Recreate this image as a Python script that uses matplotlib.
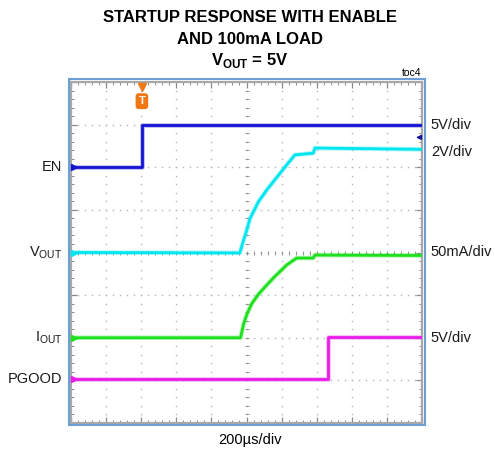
import matplotlib.pyplot as plt
from matplotlib.patches import Rectangle

# Данные, в делениях экрана (10 x 8)
en_x = [0.0, 2.02, 2.02, 10.0]
en_y = [6.0, 6.0, 7.0, 7.0]

vout_x = [0.0, 4.81, 4.92, 5.01, 5.10, 5.34, 5.58, 5.86, 6.15, 6.38, 6.90, 6.95, 10.0]
vout_y = [4.0, 3.99, 4.30, 4.53, 4.80, 5.19, 5.47, 5.76, 6.06, 6.29, 6.33, 6.45, 6.42]

iout_x = [0.0, 4.83, 4.92, 5.02, 5.15, 5.34, 5.58, 5.81, 6.15, 6.43, 6.90, 6.95, 10.0]
iout_y = [2.0, 2.0, 2.33, 2.57, 2.80, 3.02, 3.24, 3.44, 3.71, 3.87, 3.87, 3.94, 3.93]

pg_x = [0.0, 7.31, 7.31, 10.0]
pg_y = [1.03, 1.03, 2.02, 2.02]

names = ["EN", "V$_{\\mathregular{OUT}}$", "I$_{\\mathregular{OUT}}$", "PGOOD"]
name_y = [6.0, 4.0, 2.0, 1.03]
scales = ["5V/div", "2V/div", "50mA/div", "5V/div"]
scale_y = [7.0, 6.35, 4.0, 2.0]
colors = ["#1414d2", "#00e6f0", "#1ee01e", "#ea1cea"]

plt.rcParams['font.family'] = ['Liberation Sans', 'DejaVu Sans']

fig = plt.figure(figsize=(4.95, 4.55), dpi=100)
ax = fig.add_axes([71 / 495, 1 - 423 / 455, 351 / 495, 341 / 455])
ax.set_xlim(0, 10)
ax.set_ylim(0, 8)

# Сетка из точек
gc = "#b4b4b4"
for i in range(1, 10):
    yy = [k * 0.2 for k in range(1, 40)]
    ax.plot([i] * len(yy), yy, ls="none", marker="s", ms=1.0, mew=0, color=gc, zorder=1)
for j in range(1, 8):
    xx = [k * 0.2 for k in range(1, 50)]
    ax.plot(xx, [j] * len(xx), ls="none", marker="s", ms=1.0, mew=0, color=gc, zorder=1)

# Центральные оси с рисками
tk = [k * 0.2 for k in range(1, 50)]
ax.plot(tk, [4] * len(tk), ls="none", marker="|", ms=3.5, mew=0.6, color="#8a8a8a", zorder=1)
tk = [k * 0.2 for k in range(1, 40)]
ax.plot([5] * len(tk), tk, ls="none", marker="_", ms=3.5, mew=0.6, color="#8a8a8a", zorder=1)

# Трассы
for xs, ys, c in [(en_x, en_y, colors[0]), (vout_x, vout_y, colors[1]),
                  (iout_x, iout_y, colors[2]), (pg_x, pg_y, colors[3])]:
    ax.plot(xs, ys, color=c, lw=3.4, alpha=0.3, zorder=2)
    ax.plot(xs, ys, color=c, lw=2.0, zorder=3)

# Маркеры уровней слева
for yv, c in zip(name_y, colors):
    ax.plot(0.08, yv, marker=">", ms=4, color=c, clip_on=False, zorder=4)

# Уровень запуска
ax.annotate("", xy=(9.75, 6.7), xytext=(10.0, 6.7),
            arrowprops=dict(arrowstyle="-|>", color="#1414a0", lw=1, mutation_scale=7))

# Маркер T
ax.plot(2.02, 7.88, marker="v", ms=6, color="#f07814", clip_on=False, zorder=5)
ax.text(2.02, 7.55, "T", ha="center", va="center", fontsize=8, color="white", fontweight="bold",
        bbox=dict(boxstyle="round,pad=0.2", fc="#f07814", ec="#f07814"), zorder=5)

# Оси
ax.set_xticks(range(0, 11))
ax.set_yticks(range(0, 9))
ax.set_xticks([k * 0.2 for k in range(51)], minor=True)
ax.set_yticks([k * 0.2 for k in range(41)], minor=True)
ax.tick_params(which="both", direction="in", top=True, right=True,
               labelbottom=False, labelleft=False, color="#8a8a8a")
ax.tick_params(which="major", length=4, width=0.9)
ax.tick_params(which="minor", length=2.5, width=0.7)
for s in ax.spines.values():
    s.set_color("#a8a8a8")
    s.set_linewidth(1.6)

# Синяя рамка
fig.patches.append(Rectangle((68.5 / 495, 1 - 425 / 455), 356 / 495, 346 / 455,
                             transform=fig.transFigure, fill=False,
                             ec="#6c9ed6", lw=1.5, zorder=0))

# Подписи каналов
for t, yv in zip(names, name_y):
    ax.text(-0.25, yv, t, ha="right", va="center", fontsize=10.5, color="#1a1a1a")
for t, yv in zip(scales, scale_y):
    ax.text(10.25, yv, t, ha="left", va="center", fontsize=10.5, color="#1a1a1a")

# Заголовок
fig.text(0.505, 1 - 18 / 455, "STARTUP RESPONSE WITH ENABLE", ha="center", va="center",
         fontsize=12, fontweight="bold")
fig.text(0.505, 1 - 39 / 455, "AND 100mA LOAD", ha="center", va="center",
         fontsize=12, fontweight="bold")
fig.text(0.505, 1 - 60 / 455, "V$_{\\mathregular{OUT}}$ = 5V", ha="center", va="center",
         fontsize=12, fontweight="bold")
fig.text(412 / 495, 1 - 73 / 455, "toc4", ha="center", va="center", fontsize=7.5)
fig.text(250 / 495, 1 - 440 / 455, "200\u00b5s/div", ha="center", va="center", fontsize=10.5)

plt.savefig("out.png", dpi=100)
